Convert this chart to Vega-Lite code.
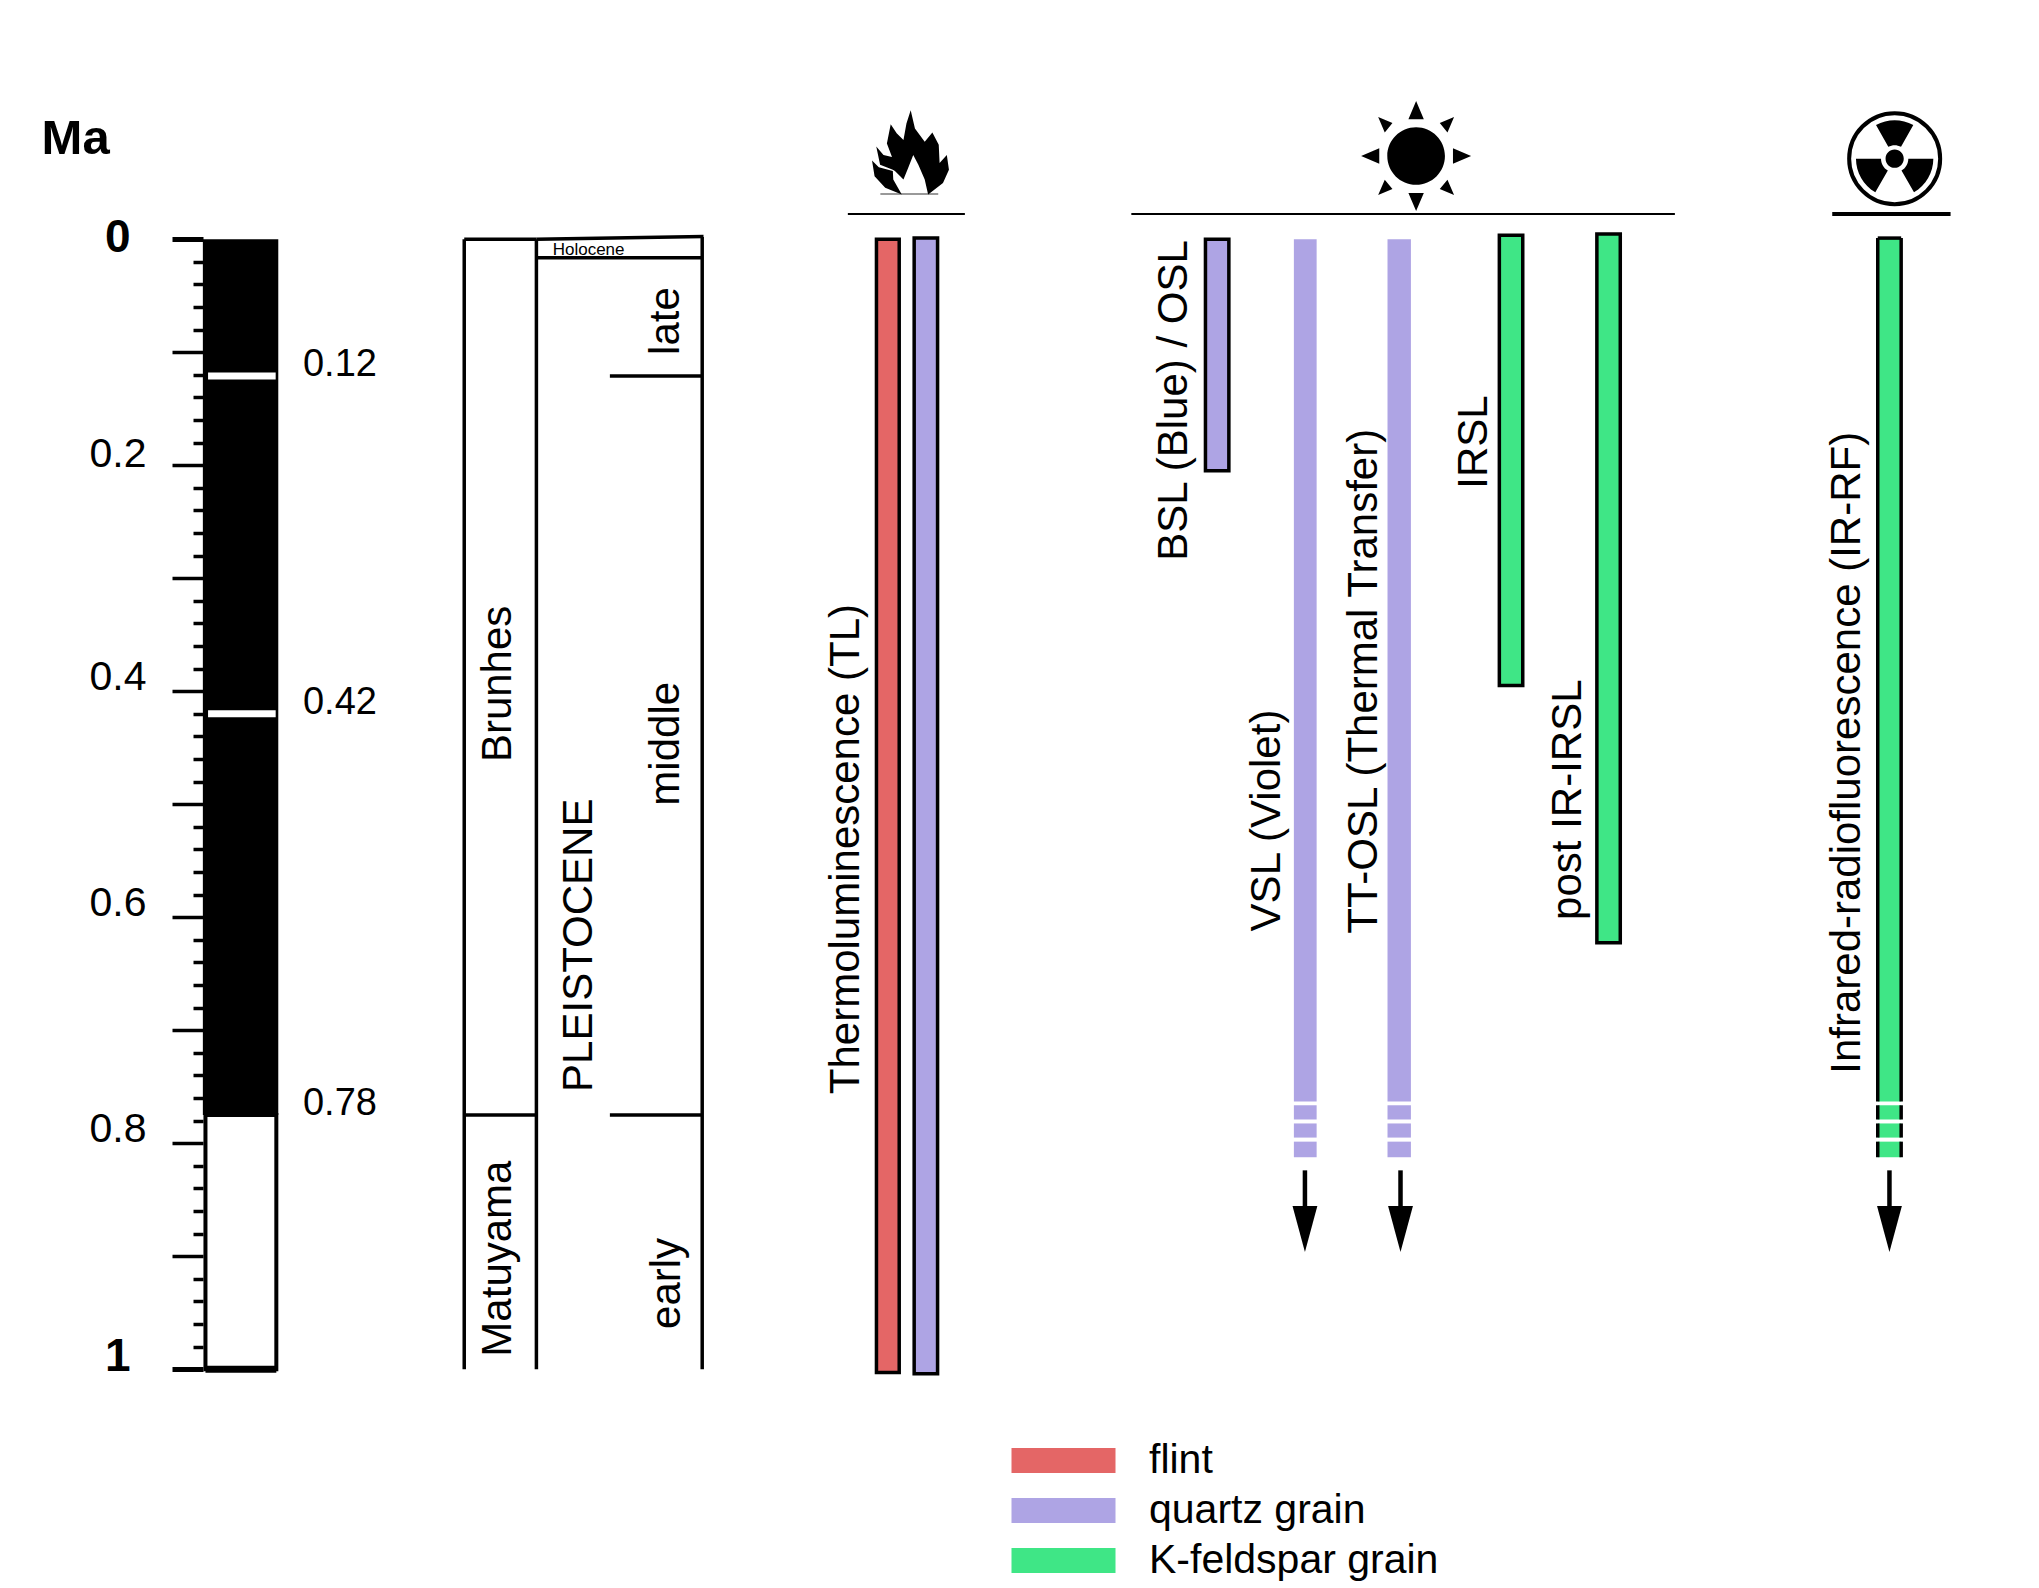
{
"$schema":"https://vega.github.io/schema/vega-lite/v6.json",
"width":2039,"height":1588,"padding":0,
"autosize":{"type":"fit","contains":"padding"},
"background":"white",
"config":{"view":{"stroke":null},"font":"Liberation Sans","text":{"font":"Liberation Sans"},"axis":{"grid":false}},
"datasets":{
"chrons":[
{"chron":"Brunhes (normal)","left":156,"right":214,"from":0,"to":0.775},
{"chron":"Matuyama (reversed)","left":158,"right":212.5,"from":0.775,"to":1}
],
"excursions":[
{"event":"0.12","left":160,"right":212,"ma":0.121},
{"event":"0.42","left":160,"right":212,"ma":0.42}
],
"boundaries":[
{"name":"Brunhes left","x":357,"x2":357,"y":0,"y2":1},
{"name":"Epoch left","x":412.5,"x2":412.5,"y":0,"y2":1},
{"name":"Stage right","x":540,"x2":540,"y":-0.002,"y2":1},
{"name":"top polarity","x":357,"x2":412.5,"y":0,"y2":0},
{"name":"top epoch","x":412.5,"x2":541,"y":0,"y2":-0.0023},
{"name":"Holocene base","x":412.5,"x2":540,"y":0.0165,"y2":0.0165},
{"name":"late base","x":469,"x2":540,"y":0.121,"y2":0.121},
{"name":"polarity reversal","x":357,"x2":412.5,"y":0.775,"y2":0.775},
{"name":"middle base","x":469,"x2":540,"y":0.775,"y2":0.775}
],
"headers":[
{"group":"heat","x":652,"x2":742,"thick":"thin"},
{"group":"light","x":870,"x2":1288,"thick":"thin"},
{"group":"radiation","x":1409,"x2":1500,"thick":"thick"}
],
"flameBase":[{"x":677,"x2":721.5,"ma":-0.04}],
"bars":[
{"method":"TL flint","material":"flint","left":674,"right":691.5,"from":0,"to":1.003},
{"method":"TL quartz","material":"quartz grain","left":703,"right":721,"from":-0.001,"to":1.004},
{"method":"BSL","material":"quartz grain","left":927,"right":945,"from":0,"to":0.205},
{"method":"VSL","material":"quartz grain","left":995,"right":1012.5,"from":0,"to":0.763},
{"method":"VSL","material":"quartz grain","left":995,"right":1012.5,"from":0.7664,"to":0.779},
{"method":"VSL","material":"quartz grain","left":995,"right":1012.5,"from":0.7825,"to":0.795},
{"method":"VSL","material":"quartz grain","left":995,"right":1012.5,"from":0.7986,"to":0.8124},
{"method":"TT-OSL","material":"quartz grain","left":1067,"right":1085,"from":0,"to":0.763},
{"method":"TT-OSL","material":"quartz grain","left":1067,"right":1085,"from":0.7664,"to":0.779},
{"method":"TT-OSL","material":"quartz grain","left":1067,"right":1085,"from":0.7825,"to":0.795},
{"method":"TT-OSL","material":"quartz grain","left":1067,"right":1085,"from":0.7986,"to":0.8124},
{"method":"IRSL","material":"K-feldspar grain","left":1153,"right":1171,"from":-0.0035,"to":0.395},
{"method":"post IR-IRSL","material":"K-feldspar grain","left":1228,"right":1246,"from":-0.0046,"to":0.6226},
{"method":"IR-RF","material":"K-feldspar grain","left":1444,"right":1462,"from":-0.001,"to":0.763},
{"method":"IR-RF","material":"K-feldspar grain","left":1444,"right":1462,"from":0.7664,"to":0.779},
{"method":"IR-RF","material":"K-feldspar grain","left":1444,"right":1462,"from":0.7825,"to":0.795},
{"method":"IR-RF","material":"K-feldspar grain","left":1444,"right":1462,"from":0.7986,"to":0.8124}
],
"arrows":[
{"method":"VSL","x":1003.5,"start":0.824,"end":0.858,"head":0.876},
{"method":"TT-OSL","x":1077,"start":0.824,"end":0.858,"head":0.876},
{"method":"IR-RF","x":1453,"start":0.824,"end":0.858,"head":0.876}
],
"vertical":[
{"label":"Brunhes","x":383,"ma":0.3935},
{"label":"Matuyama","x":383,"ma":0.9021},
{"label":"PLEISTOCENE","x":445,"ma":0.6248},
{"label":"late","x":512.5,"ma":0.0724},
{"label":"middle","x":512.5,"ma":0.4465},
{"label":"early","x":513,"ma":0.9241},
{"label":"Thermoluminescence (TL)","x":650.5,"ma":0.5397},
{"label":"BSL (Blue) / OSL","x":903,"ma":0.1427},
{"label":"VSL (Violet)","x":974,"ma":0.5144},
{"label":"TT-OSL (Thermal Transfer)","x":1049,"ma":0.3912},
{"label":"IRSL","x":1133.5,"ma":0.1795},
{"label":"post IR-IRSL","x":1206,"ma":0.4960},
{"label":"Infrared-radiofluorescence (IR-RF)","x":1420,"ma":0.4545}
],
"ageLabels":[
{"label":"0.12","x":233,"ma":0.1116},
{"label":"0.42","x":233,"ma":0.4108},
{"label":"0.78","x":233,"ma":0.7652}
],
"titleRow":[{"label":"Ma","x":32,"ma":-0.0888}],
"holocene":[{"label":"Holocene","x":425,"ma":0.0095}],
"flame":[{"icon":"heat","x":700,"ma":-0.0765}],
"sun":[{"icon":"light","x":1089,"ma":-0.0736}],
"rad":[{"icon":"radiation","x":1457,"ma":-0.0713}]
},
"layer":[
{"data":{"name":"chrons"},
 "transform":[{"filter":"datum.from==0"}],
 "mark":{"type":"rect","fill":"black"},
 "encoding":{
  "x":{"field":"left","type":"quantitative","scale":{"domain":[0,1568],"nice":false,"zero":false},"axis":null},
  "x2":{"field":"right"},
  "y":{"field":"from","type":"quantitative","title":null,
   "scale":{"domain":[-0.2117,1.1936],"reverse":true,"nice":false,"zero":false},
   "axis":{"orient":"left","offset":-203,"title":null,"domain":false,"grid":false,"tickCount":60,
    "values":[0,0.02,0.04,0.06,0.08,0.1,0.12,0.14,0.16,0.18,0.2,0.22,0.24,0.26,0.28,0.3,0.32,0.34,0.36,0.38,0.4,0.42,0.44,0.46,0.48,0.5,0.52,0.54,0.56,0.58,0.6,0.62,0.64,0.66,0.68,0.7,0.72,0.74,0.76,0.78,0.8,0.82,0.84,0.86,0.88,0.9,0.92,0.94,0.96,0.98,1],
    "tickColor":"black",
    "tickSize":{"condition":{"test":"abs(datum.value*10-round(datum.value*10))<0.000001","value":31},"value":10},
    "tickWidth":{"condition":{"test":"datum.value==0||datum.value==1","value":5},"value":3.5},
    "labelExpr":"abs(datum.value*5-round(datum.value*5))<0.000001 ? format(datum.value,'~g') : ''",
    "labelColor":"black","labelFont":"Liberation Sans",
    "labelOverlap":false,"labelBound":false,"labelFlush":false,
    "labelFontSize":{"condition":{"test":"datum.value==0||datum.value==1","value":46},"value":41},
    "labelFontWeight":{"condition":{"test":"datum.value==0||datum.value==1","value":"bold"},"value":"normal"},
    "labelPadding":{"condition":{"test":"datum.value==0||datum.value==1","value":42},"value":26},
    "labelOffset":{"condition":[{"test":"datum.value==0","value":-2},{"test":"datum.value==1","value":-13},{"test":"datum.value==0.2","value":-11}],"value":-14}
   }},
  "y2":{"field":"to"}
 }},
{"data":{"name":"chrons"},
 "transform":[{"filter":"datum.from>0"}],
 "mark":{"type":"rect","fill":"white","stroke":"black","strokeWidth":4},
 "encoding":{
  "x":{"field":"left","type":"quantitative","axis":null},"x2":{"field":"right"},
  "y":{"field":"from","type":"quantitative","title":null},"y2":{"field":"to"}
 }},
{"data":{"name":"chrons"},
 "transform":[{"filter":"datum.from>0"}],
 "mark":{"type":"rule","stroke":"black","strokeWidth":7},
 "encoding":{
  "x":{"field":"left","type":"quantitative","axis":null},"x2":{"field":"right"},
  "y":{"field":"to","type":"quantitative","title":null}
 }},
{"data":{"name":"excursions"},
 "mark":{"type":"rule","stroke":"white","strokeWidth":7},
 "encoding":{
  "x":{"field":"left","type":"quantitative","axis":null},"x2":{"field":"right"},
  "y":{"field":"ma","type":"quantitative","title":null}
 }},
{"data":{"name":"boundaries"},
 "mark":{"type":"rule","stroke":"black","strokeWidth":3.5},
 "encoding":{
  "x":{"field":"x","type":"quantitative","axis":null},"x2":{"field":"x2"},
  "y":{"field":"y","type":"quantitative","title":null},"y2":{"field":"y2"}
 }},
{"data":{"name":"headers"},
 "transform":[{"calculate":"-0.0224","as":"ma"}],
 "mark":{"type":"rule","stroke":"black"},
 "encoding":{
  "x":{"field":"x","type":"quantitative","axis":null},"x2":{"field":"x2"},
  "y":{"field":"ma","type":"quantitative","title":null},
  "strokeWidth":{"condition":{"test":"datum.thick=='thick'","value":4},"value":2}
 }},
{"data":{"name":"flameBase"},
 "mark":{"type":"rule","stroke":"#999999","strokeWidth":2},
 "encoding":{
  "x":{"field":"x","type":"quantitative","axis":null},"x2":{"field":"x2"},
  "y":{"field":"ma","type":"quantitative","title":null}
 }},
{"data":{"name":"bars"},
 "mark":{"type":"rect","strokeWidth":3.5},
 "encoding":{
  "x":{"field":"left","type":"quantitative","axis":null},"x2":{"field":"right"},
  "y":{"field":"from","type":"quantitative","title":null},"y2":{"field":"to"},
  "fill":{"field":"material","type":"nominal",
   "scale":{"domain":["flint","quartz grain","K-feldspar grain"],"range":["#E46666","#AEA4E4","#3FE686"]},
   "legend":{"orient":"none","legendX":1043,"legendY":1440,"title":null,
    "symbolType":"M -2.6,-0.62 L 2.6,-0.62 L 2.6,0.62 L -2.6,0.62 Z","symbolSize":1600,"symbolStrokeWidth":0,
    "labelFont":"Liberation Sans","labelFontSize":41,"labelColor":"black","labelOffset":65,"labelLimit":600,"rowPadding":8,"padding":0}},
  "stroke":{"condition":{"test":"datum.method!='VSL'&&datum.method!='TT-OSL'&&datum.method!='IR-RF'","value":"black"},"value":"transparent"}
 }},
{"data":{"name":"bars"},
 "transform":[{"filter":"datum.method=='IR-RF'"}],
 "mark":{"type":"rule","stroke":"black","strokeWidth":3.5},
 "encoding":{
  "x":{"field":"left","type":"quantitative","axis":null},
  "y":{"field":"from","type":"quantitative","title":null},"y2":{"field":"to"}
 }},
{"data":{"name":"bars"},
 "transform":[{"filter":"datum.method=='IR-RF'"}],
 "mark":{"type":"rule","stroke":"black","strokeWidth":3.5},
 "encoding":{
  "x":{"field":"right","type":"quantitative","axis":null},
  "y":{"field":"from","type":"quantitative","title":null},"y2":{"field":"to"}
 }},
{"data":{"name":"bars"},
 "transform":[{"filter":"datum.method=='IR-RF'&&datum.from<0"}],
 "mark":{"type":"rule","stroke":"black","strokeWidth":3.5},
 "encoding":{
  "x":{"field":"left","type":"quantitative","axis":null},"x2":{"field":"right"},
  "y":{"field":"from","type":"quantitative","title":null}
 }},
{"data":{"name":"arrows"},
 "mark":{"type":"rule","stroke":"black","strokeWidth":4.5},
 "encoding":{
  "x":{"field":"x","type":"quantitative","axis":null},
  "y":{"field":"start","type":"quantitative","title":null},"y2":{"field":"end"}
 }},
{"data":{"name":"arrows"},
 "mark":{"type":"point","filled":true,"fill":"black","stroke":null,"opacity":1,"size":2116,"shape":"M -0.54,-1 L 0.54,-1 L 0,1 Z"},
 "encoding":{
  "x":{"field":"x","type":"quantitative","axis":null},
  "y":{"field":"head","type":"quantitative","title":null}
 }},
{"data":{"name":"flame"},
 "mark":{"type":"point","filled":true,"fill":"black","stroke":null,"opacity":1,"size":7225,
  "shape":"M -0.20,0.98 L -0.59,0.82 L -0.84,0.55 L -0.90,0.18 L -0.74,0.34 L -0.41,0.43 L -0.40,0.63 Z M -0.41,0.40 L -0.71,0.28 L -0.80,-0.15 L -0.63,0.05 L -0.43,0.10 L -0.55,-0.22 L -0.46,-0.67 L -0.32,-0.46 L -0.16,-0.30 L -0.09,-0.69 L 0.01,-1 L 0.11,-0.57 L 0.34,-0.26 L 0.52,-0.48 L 0.67,-0.19 L 0.69,0.24 L 0.86,0.05 L 0.91,0.40 L 0.77,0.71 L 0.42,0.98 L 0.34,0.63 L 0.19,0.28 L 0.07,0.05 L -0.05,0.36 L -0.16,0.63 L -0.36,0.43 Z"},
 "encoding":{
  "x":{"field":"x","type":"quantitative","axis":null},
  "y":{"field":"ma","type":"quantitative","title":null}
 }},
{"data":{"name":"sun"},
 "mark":{"type":"point","filled":true,"fill":"black","stroke":null,"opacity":1,"size":12100,
  "shape":"M -0.524,0 A 0.524,0.524 0 1,0 0.524,0 A 0.524,0.524 0 1,0 -0.524,0 Z M 0,-1 L 0.14,-0.67 L -0.14,-0.67 Z M 0,1 L 0.14,0.67 L -0.14,0.67 Z M 1,0 L 0.67,0.14 L 0.67,-0.14 Z M -1,0 L -0.67,0.14 L -0.67,-0.14 Z M 0.69,-0.71 L 0.43,-0.6 L 0.57,-0.43 Z M -0.69,-0.71 L -0.43,-0.6 L -0.57,-0.43 Z M 0.69,0.71 L 0.43,0.6 L 0.57,0.43 Z M -0.69,0.71 L -0.43,0.6 L -0.57,0.43 Z"},
 "encoding":{
  "x":{"field":"x","type":"quantitative","axis":null},
  "y":{"field":"ma","type":"quantitative","title":null}
 }},
{"data":{"name":"rad"},
 "mark":{"type":"point","filled":false,"fill":null,"stroke":"black","strokeWidth":4,"opacity":1,"size":8281,
  "shape":"M -1,0 A 1,1 0 1,0 1,0 A 1,1 0 1,0 -1,0 Z"},
 "encoding":{
  "x":{"field":"x","type":"quantitative","axis":null},
  "y":{"field":"ma","type":"quantitative","title":null}
 }},
{"data":{"name":"rad"},
 "mark":{"type":"point","filled":true,"fill":"black","stroke":null,"opacity":1,"size":8281,
  "shape":"M -0.2,0 A 0.2,0.2 0 1,0 0.2,0 A 0.2,0.2 0 1,0 -0.2,0 Z M -0.14,-0.26 L -0.41,-0.74 A 0.85,0.85 0 0,1 0.41,-0.74 L 0.14,-0.26 A 0.3,0.3 0 0,0 -0.14,-0.26 Z M 0.3,0 L 0.85,0 A 0.85,0.85 0 0,1 0.425,0.736 L 0.15,0.26 A 0.3,0.3 0 0,0 0.3,0 Z M -0.3,0 L -0.85,0 A 0.85,0.85 0 0,0 -0.425,0.736 L -0.15,0.26 A 0.3,0.3 0 0,1 -0.3,0 Z"},
 "encoding":{
  "x":{"field":"x","type":"quantitative","axis":null},
  "y":{"field":"ma","type":"quantitative","title":null}
 }},
{"data":{"name":"vertical"},
 "mark":{"type":"text","angle":270,"align":"center","baseline":"middle","font":"Liberation Sans","fontSize":42,"fill":"black"},
 "encoding":{
  "x":{"field":"x","type":"quantitative","axis":null},
  "y":{"field":"ma","type":"quantitative","title":null},
  "text":{"field":"label"}
 }},
{"data":{"name":"ageLabels"},
 "mark":{"type":"text","align":"left","baseline":"middle","font":"Liberation Sans","fontSize":38,"fill":"black"},
 "encoding":{
  "x":{"field":"x","type":"quantitative","axis":null},
  "y":{"field":"ma","type":"quantitative","title":null},
  "text":{"field":"label"}
 }},
{"data":{"name":"titleRow"},
 "mark":{"type":"text","align":"left","baseline":"middle","font":"Liberation Sans","fontSize":49,"fontWeight":"bold","fill":"black"},
 "encoding":{
  "x":{"field":"x","type":"quantitative","axis":null},
  "y":{"field":"ma","type":"quantitative","title":null},
  "text":{"field":"label"}
 }},
{"data":{"name":"holocene"},
 "mark":{"type":"text","align":"left","baseline":"middle","font":"Liberation Sans","fontSize":17,"fill":"black"},
 "encoding":{
  "x":{"field":"x","type":"quantitative","axis":null},
  "y":{"field":"ma","type":"quantitative","title":null},
  "text":{"field":"label"}
 }}
]
}
